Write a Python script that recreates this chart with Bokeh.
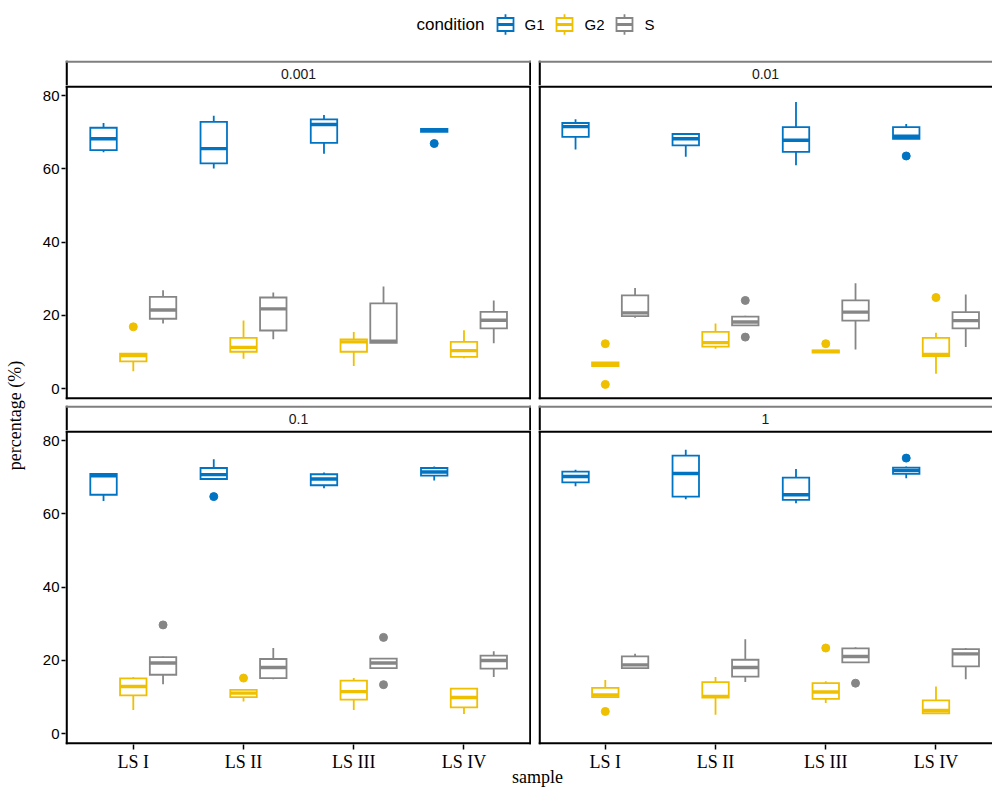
from bokeh.plotting import figure
from bokeh.models import Range1d, FixedTicker, Span
from bokeh.layouts import row, column
from bokeh.embed import file_html
from bokeh.resources import INLINE
from bokeh.core.properties import value
import math

samples = ["LS I", "LS II", "LS III", "LS IV"]
conditions = ["G1", "G2", "S"]
facets = ["0.001", "0.01", "0.1", "1"]
colors = ["#0073C2", "#EFC000", "#868686"]

# each entry: [lower whisker, Q1, median, Q3, upper whisker] for LS I..LS IV
g1_0001 = [[64.5, 65.1, 68.2, 71.2, 72.5], [60.1, 61.5, 65.5, 72.8, 74.5],
           [64.1, 67.1, 72.1, 73.5, 74.7], [70.1, 70.1, 70.5, 70.9, 70.9]]
g2_0001 = [[4.8, 7.5, 9.1, 9.6, 9.6], [8.2, 10.1, 11.3, 13.9, 18.6],
           [6.2, 10.1, 12.8, 13.5, 15.5], [8.3, 8.7, 10.4, 12.8, 16.0]]
s_0001 = [[17.8, 19.1, 21.5, 25.1, 26.9], [13.5, 15.9, 21.8, 24.9, 26.3],
          [12.5, 12.5, 13.0, 23.3, 27.9], [12.4, 16.5, 18.7, 21.0, 24.1]]

g1_001 = [[65.3, 68.7, 71.5, 72.5, 73.5], [63.3, 66.4, 68.2, 69.5, 69.5],
          [61.0, 64.6, 67.8, 71.4, 78.2], [68.2, 68.2, 68.9, 71.4, 72.2]]
g2_001 = [[6.2, 6.2, 6.7, 7.2, 7.2], [10.9, 11.5, 12.6, 15.5, 17.8],
          [9.9, 9.9, 10.2, 10.5, 10.5], [4.1, 8.9, 9.4, 13.9, 15.3]]
s_001 = [[19.4, 19.8, 20.7, 25.5, 27.5], [17.2, 17.3, 18.2, 19.7, 19.9],
         [10.7, 18.6, 20.9, 24.1, 28.8], [11.4, 16.5, 18.6, 20.9, 25.7]]

g1_01 = [[63.5, 65.2, 70.4, 70.9, 70.9], [69.5, 69.5, 70.7, 72.5, 74.9],
         [67.0, 67.8, 69.5, 70.8, 71.3], [69.1, 70.4, 71.4, 72.5, 72.9]]
g2_01 = [[6.5, 10.5, 12.9, 15.1, 15.5], [8.8, 10.0, 11.1, 12.0, 12.0],
         [6.5, 9.3, 11.5, 14.5, 15.2], [5.4, 7.2, 9.9, 12.3, 12.3]]
s_01 = [[13.5, 16.1, 19.3, 20.9, 21.1], [14.9, 15.2, 18.1, 20.4, 23.4],
        [17.9, 17.9, 19.3, 20.5, 20.5], [15.5, 17.8, 20.0, 21.3, 22.5]]

g1_1 = [[67.5, 68.6, 70.2, 71.5, 72.0], [64.0, 64.7, 71.0, 75.9, 77.5],
        [62.9, 63.8, 65.2, 69.9, 72.2], [69.7, 70.9, 71.8, 72.6, 72.9]]
g2_1 = [[10.0, 10.0, 10.6, 12.5, 14.7], [5.2, 9.9, 10.2, 14.1, 15.5],
        [8.4, 9.5, 11.4, 13.8, 14.3], [5.5, 5.6, 6.4, 9.1, 12.9]]
s_1 = [[17.9, 17.9, 18.8, 21.1, 21.8], [14.1, 15.6, 18.1, 20.2, 25.8],
       [19.5, 19.5, 21.1, 23.3, 23.6], [14.9, 18.4, 21.8, 23.1, 23.4]]

# outliers: sample index, condition index, value
out_0001_sample = [0, 3]
out_0001_cond = [1, 0]
out_0001_val = [16.9, 66.9]

out_001_sample = [0, 0, 1, 1, 2, 3, 3]
out_001_cond = [1, 1, 2, 2, 1, 0, 1]
out_001_val = [12.3, 1.2, 24.1, 14.1, 12.3, 63.5, 24.9]

out_01_sample = [0, 1, 1, 2, 2]
out_01_cond = [2, 0, 1, 2, 2]
out_01_val = [29.7, 64.7, 15.2, 26.3, 13.4]

out_1_sample = [0, 2, 2, 3]
out_1_cond = [1, 1, 2, 0]
out_1_val = [6.1, 23.4, 13.8, 75.2]

y_ticks = [0, 20, 40, 60, 80]

panel_stats = [
    [g1_0001, g2_0001, s_0001],
    [g1_001, g2_001, s_001],
    [g1_01, g2_01, s_01],
    [g1_1, g2_1, s_1],
]
panel_out = [
    (out_0001_sample, out_0001_cond, out_0001_val),
    (out_001_sample, out_001_cond, out_001_val),
    (out_01_sample, out_01_cond, out_01_val),
    (out_1_sample, out_1_cond, out_1_val),
]

SANS = "Liberation Sans"
SERIF = "Liberation Serif"
Y0, Y1 = -2.92, 82.73
OFFS = [-0.27, 0.0, 0.27]
HALF = 0.12
BW = 2.3           # border line width
INS = BW / 2.0     # inset so the border is drawn fully inside the frame
YLAB_W = 35
LEFT_W, RIGHT_W = 496, 461
LEFT_MB, RIGHT_MB = 30, 7
FRAME_H = 314
PX_PER_X = 110.23
LEFT_X = (0.385, 0.385 + (LEFT_W - LEFT_MB) / PX_PER_X)
RIGHT_X = (0.394, 0.394 + (RIGHT_W - RIGHT_MB) / PX_PER_X)
STRIP_H = 25
TOP_GAP = 6
BOTTOM_AXIS = 30


def add_borders(fig, xr, yr, fw, fh, sides, color_top="black"):
    dx = INS * (xr[1] - xr[0]) / fw
    dy = INS * (yr[1] - yr[0]) / fh
    if "left" in sides:
        fig.add_layout(Span(location=xr[0] + dx, dimension="height", line_color="black", line_width=BW))
    if "right" in sides:
        fig.add_layout(Span(location=xr[1] - dx, dimension="height", line_color="black", line_width=BW))
    if "bottom" in sides:
        fig.add_layout(Span(location=yr[0] + dy, dimension="width", line_color="black", line_width=BW))
    if "top" in sides:
        fig.add_layout(Span(location=yr[1] - dy, dimension="width", line_color=color_top, line_width=BW))


def make_panel(idx, left, bottom):
    w = LEFT_W if left else RIGHT_W
    mb = LEFT_MB if left else RIGHT_MB
    xr = LEFT_X if left else RIGHT_X
    h = FRAME_H + (BOTTOM_AXIS if bottom else TOP_GAP)
    p = figure(width=w, height=h, x_range=Range1d(*xr), y_range=Range1d(Y0, Y1),
               output_backend="svg", toolbar_location=None,
               min_border_left=mb, min_border_right=0,
               min_border_top=0, min_border_bottom=BOTTOM_AXIS if bottom else TOP_GAP,
               x_axis_location="below" if bottom else None,
               y_axis_location="left" if left else None)
    p.grid.visible = False
    p.outline_line_color = None
    sides = ["left", "top", "bottom"] + (["right"] if left else [])

    for ci, stats in enumerate(panel_stats[idx]):
        c = colors[ci]
        xs = [i + 1 + OFFS[ci] for i in range(len(samples))]
        lw = [s[0] for s in stats]
        q1 = [s[1] for s in stats]
        md = [s[2] for s in stats]
        q3 = [s[3] for s in stats]
        uw = [s[4] for s in stats]
        p.segment(x0=xs, y0=q3, x1=xs, y1=uw, line_color=c, line_width=1.8)
        p.segment(x0=xs, y0=lw, x1=xs, y1=q1, line_color=c, line_width=1.8)
        p.quad(left=[x - HALF for x in xs], right=[x + HALF for x in xs],
               bottom=q1, top=q3, fill_color="white", line_color=c,
               line_width=1.8, line_join="miter")
        p.segment(x0=[x - HALF for x in xs], y0=md, x1=[x + HALF for x in xs], y1=md,
                  line_color=c, line_width=3.4)
    osam, ocon, oval = panel_out[idx]
    ox = [osam[k] + 1 + OFFS[ocon[k]] for k in range(len(oval))]
    oc = [colors[ocon[k]] for k in range(len(oval))]
    p.scatter(x=ox, y=oval, size=8, fill_color=oc, line_color=oc)

    add_borders(p, xr, (Y0, Y1), w - mb, FRAME_H, sides)

    if left:
        ax = p.yaxis[0]
        ax.ticker = FixedTicker(ticks=y_ticks)
        ax.axis_line_color = None
        ax.major_tick_in = 0
        ax.major_tick_out = 4
        ax.major_tick_line_width = 1.5
        ax.major_tick_line_color = "black"
        ax.minor_tick_line_color = None
        ax.major_label_standoff = 2
        ax.major_label_text_font = SANS
        ax.major_label_text_font_size = "15px"
        ax.major_label_text_color = "black"
    if bottom:
        ax = p.xaxis[0]
        ax.ticker = FixedTicker(ticks=[1, 2, 3, 4])
        ax.major_label_overrides = {i + 1: s for i, s in enumerate(samples)}
        ax.axis_line_color = None
        ax.major_tick_in = 0
        ax.major_tick_out = 5
        ax.major_tick_line_width = 1.5
        ax.major_tick_line_color = "black"
        ax.minor_tick_line_color = None
        ax.major_label_standoff = 2
        ax.major_label_text_font = SERIF
        ax.major_label_text_font_size = "18px"
        ax.major_label_text_color = "black"
    return p


def make_strip(label, left):
    w = LEFT_W if left else RIGHT_W
    mb = LEFT_MB if left else RIGHT_MB
    s = figure(width=w, height=STRIP_H, x_range=Range1d(0, 1), y_range=Range1d(0, 1),
               output_backend="svg", toolbar_location=None,
               min_border_left=mb, min_border_right=0,
               min_border_top=0, min_border_bottom=0,
               x_axis_location=None, y_axis_location=None)
    s.grid.visible = False
    s.outline_line_color = None
    sides = ["left", "top"] + (["right"] if left else [])
    add_borders(s, (0, 1), (0, 1), w - mb, STRIP_H, sides, color_top="#7f7f7f")
    s.text(x=[0.5], y=[0.45], text=[label], text_align="center", text_baseline="middle",
           text_font=value(SANS), text_font_size="14px", text_color="#1a1a1a")
    return s


# legend
LEG_H = 60
leg = figure(width=992, height=LEG_H, x_range=Range1d(0, 992), y_range=Range1d(LEG_H, 0),
             output_backend="svg", toolbar_location=None, min_border=0,
             x_axis_location=None, y_axis_location=None)
leg.grid.visible = False
leg.outline_line_color = None
ly = 24
leg.text(x=[484], y=[ly], text=["condition"], text_align="right", text_baseline="middle",
         text_font=value(SANS), text_font_size="17px", text_color="black")
key_x = [505, 564, 624]
lab_x = [524, 584, 644]
for ci, cond in enumerate(conditions):
    c = colors[ci]
    kx = key_x[ci]
    leg.segment(x0=[kx], y0=[ly - 10.3], x1=[kx], y1=[ly + 10.3], line_color=c, line_width=1.8)
    leg.quad(left=[kx - 8], right=[kx + 8], bottom=[ly - 6.5], top=[ly + 6.5],
             fill_color="white", line_color=c, line_width=1.8, line_join="miter")
    leg.segment(x0=[kx - 8], y0=[ly], x1=[kx + 8], y1=[ly], line_color=c, line_width=3.0)
    leg.text(x=[lab_x[ci]], y=[ly], text=[cond], text_align="left", text_baseline="middle",
             text_font=value(SANS), text_font_size="15px", text_color="black")

# y axis title
ylab_h = STRIP_H + FRAME_H + TOP_GAP + STRIP_H + FRAME_H + BOTTOM_AXIS
ylab = figure(width=YLAB_W, height=ylab_h, x_range=Range1d(0, YLAB_W), y_range=Range1d(0, ylab_h),
              output_backend="svg", toolbar_location=None, min_border=0,
              x_axis_location=None, y_axis_location=None)
ylab.grid.visible = False
ylab.outline_line_color = None
ylab.text(x=[14], y=[ylab_h - (415 - LEG_H)], text=["percentage (%)"], angle=math.pi / 2,
          text_align="center", text_baseline="middle",
          text_font=value(SERIF), text_font_size="18px", text_color="black")

# x axis title (pulled up a little, transparent, so it sits just under the tick labels)
XLAB_H = 23
xlab = figure(width=992, height=XLAB_H, x_range=Range1d(0, 992), y_range=Range1d(XLAB_H, 0),
              output_backend="svg", toolbar_location=None, min_border=0,
              x_axis_location=None, y_axis_location=None, margin=(-10, 0, 0, 0))
xlab.grid.visible = False
xlab.outline_line_color = None
xlab.background_fill_alpha = 0
xlab.border_fill_alpha = 0
xlab.text(x=[537], y=[12.5], text=["sample"], text_align="center", text_baseline="middle",
          text_font=value(SERIF), text_font_size="18px", text_color="black")

st_tl = make_strip(facets[0], True)
st_tr = make_strip(facets[1], False)
st_bl = make_strip(facets[2], True)
st_br = make_strip(facets[3], False)
p_tl = make_panel(0, True, False)
p_tr = make_panel(1, False, False)
p_bl = make_panel(2, True, True)
p_br = make_panel(3, False, True)

grid = column(row(st_tl, st_tr), row(p_tl, p_tr), row(st_bl, st_br), row(p_bl, p_br))
layout = column(leg, row(ylab, grid), xlab)

open("out.html", "w").write(file_html(layout, INLINE))
